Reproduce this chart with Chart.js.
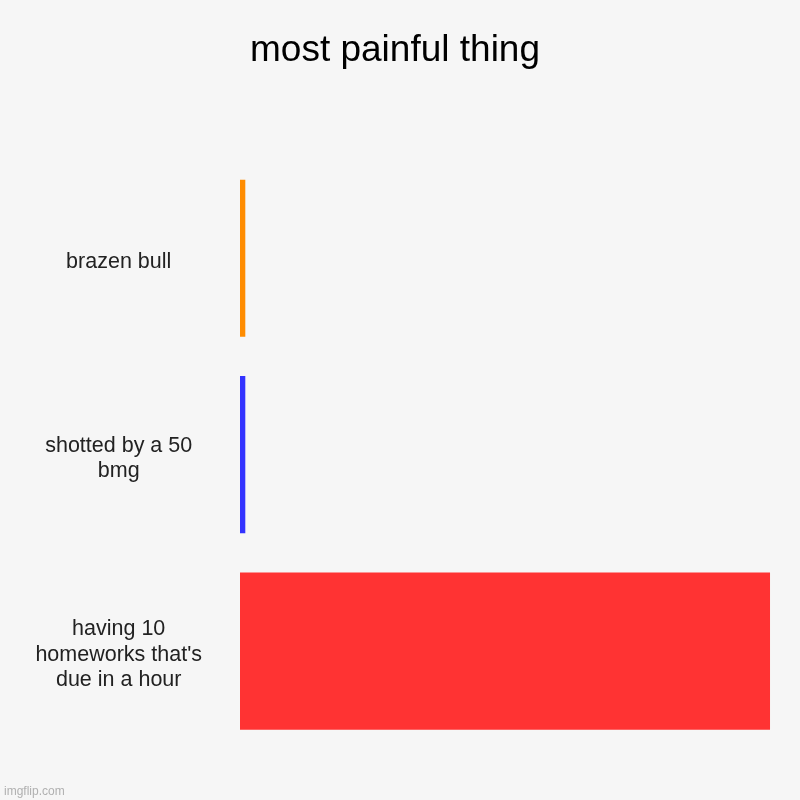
<!DOCTYPE html>
<html>
<head>
<meta charset="utf-8">
<script src="https://cdn.jsdelivr.net/npm/chart.js@4"></script>
<style>
  html, body { margin: 0; padding: 0; background: #f6f6f6; }
  #wrap { width: 800px; height: 800px; }
</style>
</head>
<body>
<div id="wrap"><canvas id="c" width="800" height="800"></canvas></div>
<script>
const titleText = "most painful thing";
const categories = [
  ["brazen bull"],
  ["shotted by a 50", "bmg"],
  ["having 10", "homeworks that's", "due in a hour"]
];
const values = [1, 1, 100];
const barColors = ["#ff8c00", "#3333ff", "#ff3333"];
const watermark = "imgflip.com";

const FONT = "'Liberation Sans', Arial, Helvetica, sans-serif";

const bgPlugin = {
  id: 'bg',
  beforeDraw(chart) {
    const ctx = chart.ctx;
    ctx.save();
    ctx.fillStyle = '#f6f6f6';
    ctx.fillRect(0, 0, chart.width, chart.height);
    ctx.restore();
  },
  afterDraw(chart) {
    const ctx = chart.ctx;
    ctx.save();
    ctx.fillStyle = '#b0b0b0';
    ctx.font = "12px " + FONT;
    ctx.textAlign = 'left';
    ctx.textBaseline = 'alphabetic';
    ctx.fillText(watermark, 4, 795);
    ctx.restore();
  }
};

new Chart(document.getElementById('c'), {
  type: 'bar',
  data: {
    labels: categories,
    datasets: [{
      data: values,
      backgroundColor: barColors,
      borderWidth: 0,
      categoryPercentage: 0.8,
      barPercentage: 1.0
    }]
  },
  options: {
    indexAxis: 'y',
    responsive: false,
    animation: false,
    devicePixelRatio: 1,
    layout: { padding: { left: 0, right: 10, top: 0, bottom: 50 } },
    plugins: {
      legend: { display: false },
      tooltip: { enabled: false },
      title: {
        display: true,
        text: titleText,
        color: '#000000',
        font: { family: FONT, size: 37, weight: 'normal', lineHeight: 1.2 },
        padding: { top: 29, bottom: 86.6 }
      }
    },
    scales: {
      x: {
        display: false,
        min: 0,
        max: 103.77
      },
      y: {
        grid: { display: false, drawTicks: false },
        border: { display: false },
        ticks: {
          color: '#222222',
          font: { family: FONT, size: 21.5, lineHeight: 1.17 },
          crossAlign: 'center',
          padding: 38,
          labelOffset: 3.5
        },
        afterFit(scale) { scale.width = 240; }
      }
    }
  },
  plugins: [bgPlugin]
});
</script>
</body>
</html>
